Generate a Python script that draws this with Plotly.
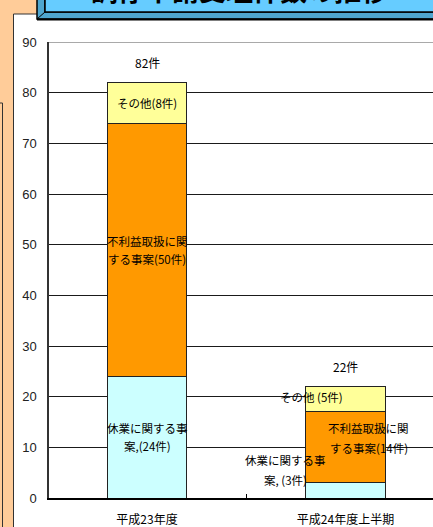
import plotly.graph_objects as go

# --- data -------------------------------------------------------------
categories = ["平成23年度", "平成24年度上半期"]
series_names = ["休業に関する事案", "不利益取扱に関する事案", "その他"]
kyugyo = [24, 3]        # 休業に関する事案
furieki = [50, 14]      # 不利益取扱に関する事案
sonota = [8, 5]         # その他
y_ticks = [0, 10, 20, 30, 40, 50, 60, 70, 80, 90]

title_text = "調停申請受理件数の推移"

# label wording per segment (two-line labels split with \n)
kyugyo_fmt = ["休業に関する事\n案,({}件)", "休業に関する事\n案, ({}件)"]
furieki_fmt = ["不利益取扱に関\nする事案({}件)", "不利益取扱に関\nする事案({}件)"]
sonota_fmt = ["その他({}件)", "その他 ({}件)"]

# --- styling ----------------------------------------------------------
W, H = 433, 527
ML, MR, MT, MB = 49, 0, 42, 29
PW, PH = W - ML - MR, H - MT - MB

PEACH = "#FFCC99"
COL_K = "#CCFFFF"
COL_F = "#FF9900"
COL_S = "#FFFF99"
JP = "Noto Sans CJK JP"


def xp(px):
    return (px - ML) / PW


def yp(py):
    return (MT + PH - py) / PH


fig = go.Figure()
for name, vals, col in [
    (series_names[0], kyugyo, COL_K),
    (series_names[1], furieki, COL_F),
    (series_names[2], sonota, COL_S),
]:
    fig.add_trace(go.Bar(
        x=categories, y=vals, name=name, width=0.4,
        marker=dict(color=col, line=dict(color="#222222", width=1)),
        hoverinfo="skip",
    ))

annotations = []


def seg_label(cat, yval, text, dx=0, dy=0, gap=18):
    lines = text.split("\n")
    n = len(lines)
    for k, ln in enumerate(lines):
        off = (n - 1) / 2 * gap - k * gap
        annotations.append(dict(
            x=cat, y=yval, xref="x", yref="y", text=ln, showarrow=False,
            xanchor="center", yanchor="middle", xshift=dx, yshift=dy + off,
            font=dict(family=JP, size=11.5, color="#000000"),
        ))


# per-bar label offsets in pixels (x, y) and line gap
k_off = [(0, 0, 18), (-60, 20, 20)]
f_off = [(0, 0, 18), (23, 9, 20)]
s_off = [(0, 0, 18), (-34, 2, 18)]

for i, cat in enumerate(categories):
    k, f, s = kyugyo[i], furieki[i], sonota[i]
    seg_label(cat, k / 2, kyugyo_fmt[i].format(k), *k_off[i])
    seg_label(cat, k + f / 2, furieki_fmt[i].format(f), *f_off[i])
    seg_label(cat, k + f + s / 2, sonota_fmt[i].format(s), *s_off[i])
    total = k + f + s
    annotations.append(dict(
        x=cat, y=total, xref="x", yref="y", text=f"{total}件",
        showarrow=False, xanchor="center", yanchor="middle", yshift=20,
        font=dict(family=JP, size=12, color="#000000"),
    ))

# title text (runs off the top edge)
annotations.append(dict(
    x=xp(239), y=yp(-11), xref="paper", yref="paper", text=title_text,
    showarrow=False, xanchor="center", yanchor="middle",
    font=dict(family=JP, size=27, color="#000000", weight="bold"),
))

shapes = [
    # white panel behind the chart
    dict(type="rect", xref="paper", yref="paper", layer="below",
         x0=xp(13.5), x1=xp(460), y0=yp(14), y1=yp(560),
         fillcolor="#FFFFFF", line=dict(color="#333333", width=1)),
    # corner of the neighbouring panel on the far left
    dict(type="path", xref="paper", yref="paper", layer="above",
         path=f"M {xp(-5)} {yp(103)} L {xp(2.5)} {yp(103)} L {xp(2.5)} {yp(560)}",
         line=dict(color="#333333", width=1)),
    # title box: bevel (drawn first) then front face
    dict(type="path", xref="paper", yref="paper", layer="above",
         path=(f"M {xp(37)} {yp(-20)} L {xp(45)} {yp(-20)} L {xp(45)} {yp(12)} "
               f"L {xp(460)} {yp(12)} L {xp(460)} {yp(19)} L {xp(37)} {yp(19)} Z"),
         fillcolor="#4FA6CF", line=dict(color="#000000", width=1.5)),
    dict(type="rect", xref="paper", yref="paper", layer="above",
         x0=xp(45), x1=xp(460), y0=yp(12), y1=yp(-30),
         fillcolor="#66CCFF", line=dict(color="#000000", width=1.5)),
    dict(type="line", xref="paper", yref="paper", layer="above",
         x0=xp(37), x1=xp(45), y0=yp(19), y1=yp(12),
         line=dict(color="#000000", width=1)),
    dict(type="line", xref="paper", yref="paper", layer="above",
         x0=xp(37), x1=xp(460), y0=yp(19.5), y1=yp(19.5),
         line=dict(color="#000000", width=2)),
    # plot-area top border
    dict(type="line", xref="paper", yref="y", layer="below",
         x0=0, x1=1, y0=90, y1=90, line=dict(color="#8C8C8C", width=1.5)),
]

fig.update_layout(
    width=W, height=H,
    margin=dict(l=ML, r=MR, t=MT, b=MB, pad=0),
    paper_bgcolor=PEACH, plot_bgcolor="#FFFFFF",
    barmode="stack", showlegend=False, bargap=0.6,
    annotations=annotations, shapes=shapes,
    xaxis=dict(
        type="category", range=[-0.4937, 1.4408],
        showgrid=False, showline=True, linecolor="#000000", linewidth=1.5,
        ticks="inside", tickson="boundaries", ticklen=4, tickcolor="#000000",
        tickfont=dict(family=JP, size=12, color="#000000"),
        ticklabelstandoff=10, fixedrange=True,
    ),
    yaxis=dict(
        range=[0, 90], tickvals=y_ticks, showgrid=True,
        gridcolor="#1A1A1A", gridwidth=1, zeroline=False,
        showline=True, linecolor="#333333", linewidth=1.5, ticks="",
        tickfont=dict(family="Liberation Sans Narrow, Liberation Sans, sans-serif",
                      size=13, color="#222222"),
        ticklabelstandoff=8, fixedrange=True,
    ),
)

fig.write_html("out.html")
